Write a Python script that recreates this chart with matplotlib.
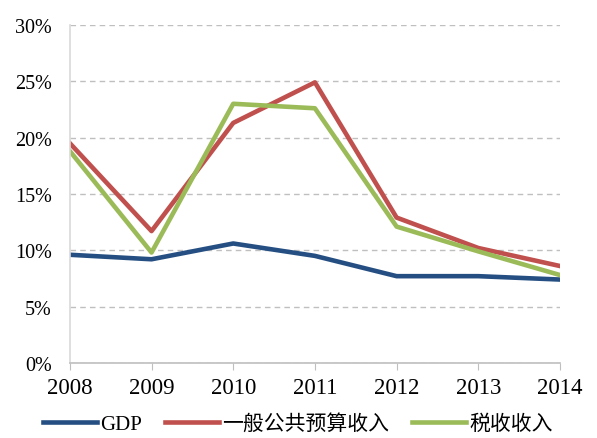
import matplotlib
matplotlib.use("Agg")
from matplotlib import pyplot as plt
from matplotlib.ticker import FuncFormatter

years = [2008, 2009, 2010, 2011, 2012, 2013, 2014]
gdp = [9.6, 9.2, 10.6, 9.5, 7.7, 7.7, 7.4]
budget_rev = [19.5, 11.7, 21.3, 24.9, 12.9, 10.2, 8.6]
tax_rev = [18.8, 9.8, 23.0, 22.6, 12.1, 9.9, 7.8]
labels = ["GDP", "一般公共预算收入", "税收收入"]

plt.rcParams['font.family'] = ['Liberation Serif', 'Noto Sans CJK SC']

fig = plt.figure(figsize=(5.97, 4.39), dpi=100)
ax = fig.add_axes([0.117, 0.171, 0.821, 0.77])

ax.plot(years, gdp, color='#254F82', lw=3.3, label=labels[0])
ax.plot(years, budget_rev, color='#C0504D', lw=3.3, label=labels[1])
ax.plot(years, tax_rev, color='#9BBB59', lw=3.3, label=labels[2])

ax.set_xlim(2008, 2014)
ax.set_ylim(0, 30)
ax.set_yticks(range(0, 31, 5))
ax.yaxis.set_major_formatter(FuncFormatter(lambda v, p: '%d%%' % v))
ax.set_xticks(years)
ax.grid(axis='y', color='#BFBFBF', ls=(0, (4, 3)), lw=1)
ax.set_axisbelow(True)

for s in ['top', 'right']:
    ax.spines[s].set_visible(False)
ax.spines['left'].set_color('#D9D9D9')
ax.spines['left'].set_linewidth(1.2)
ax.spines['bottom'].set_color('#BFBFBF')
ax.spines['bottom'].set_linewidth(1.2)
ax.tick_params(axis='y', length=0, labelsize=14.5, pad=13)
ax.tick_params(axis='x', length=5, color='#BFBFBF', labelsize=16.5, pad=5)

ax.legend(loc='upper center', bbox_to_anchor=(0.465, -0.108), ncol=3, frameon=False,
          handlelength=2.6, handletextpad=0.15, columnspacing=1.1,
          borderpad=0.2, prop={'family': ['Liberation Serif', 'Noto Sans CJK SC'], 'size': 15})

fig.savefig('out.png', dpi=100)
